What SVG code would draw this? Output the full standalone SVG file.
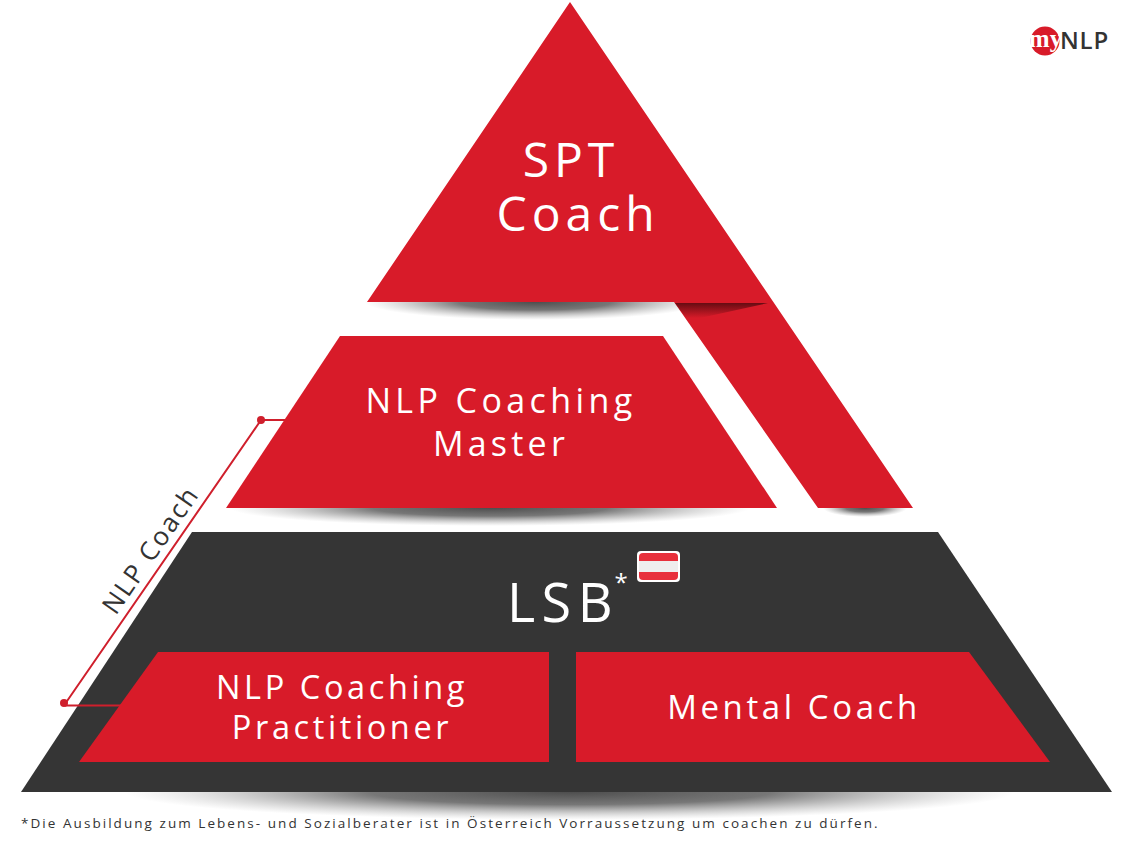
<svg xmlns="http://www.w3.org/2000/svg" width="1133" height="850" viewBox="0 0 1133 850">
<style>
.lbl{font-family:"Open Sans","Noto Sans",sans-serif;fill:#fff;text-anchor:middle}
.red{fill:#d81b29}
.conn{stroke:#cf1f2c;stroke-width:2;fill:none}
.dot{fill:#cf1f2c}
</style>
<defs>
<radialGradient id="sh">
<stop offset="0" stop-color="#444" stop-opacity=".95"/>
<stop offset=".45" stop-color="#555" stop-opacity=".8"/>
<stop offset=".75" stop-color="#777" stop-opacity=".35"/>
<stop offset="1" stop-color="#999" stop-opacity="0"/>
</radialGradient>
<linearGradient id="fold" x1="0" y1="0" x2="0" y2="1">
<stop offset="0" stop-color="#5a0a10" stop-opacity=".9"/>
<stop offset="1" stop-color="#5a0a10" stop-opacity="0"/>
</linearGradient>
<clipPath id="c1"><rect x="340" y="302" width="340" height="30"/></clipPath>
<clipPath id="c2"><rect x="200" y="508" width="590" height="24"/></clipPath>
<clipPath id="c3"><rect x="800" y="508" width="130" height="14"/></clipPath>
<clipPath id="c4"><rect x="60" y="792" width="1030" height="30"/></clipPath>
</defs>
<rect width="1133" height="850" fill="#fff"/>
<g id="shadows">
<g clip-path="url(#c1)"><ellipse fill="url(#sh)" cx="535" cy="302" rx="170" ry="18"/></g>
<g clip-path="url(#c2)"><ellipse fill="url(#sh)" cx="490" cy="508" rx="260" ry="18"/></g>
<g clip-path="url(#c3)"><ellipse fill="url(#sh)" cx="865" cy="508" rx="42" ry="9"/></g>
<g clip-path="url(#c4)"><ellipse fill="url(#sh)" cx="570" cy="792" rx="445" ry="28"/></g>
</g>
<g id="node-spt">
<polygon class="red" points="570,2 913,508 818,508 674,302 367,302"/>
<polygon fill="url(#fold)" points="675,303 768,303 700,318 686,318"/>
<text class="lbl" font-size="48" letter-spacing="5" x="571" y="177">SPT</text>
<text class="lbl" font-size="48" letter-spacing="5" x="578" y="231">Coach</text>
</g>
<g id="node-master">
<polygon class="red" points="340,336 663,336 777,508 226,508"/>
<text class="lbl" font-size="34" letter-spacing="4.4" x="501" y="413">NLP Coaching</text>
<text class="lbl" font-size="34" letter-spacing="4.2" x="501" y="456">Master</text>
</g>
<g id="node-lsb">
<polygon points="192,532 938,532 1112,792 21,792" fill="#353535"/>
<text class="lbl" font-size="54" letter-spacing="6.500" x="563" y="622">LSB</text>
<text class="lbl" font-size="24" x="621" y="591">*</text>
<g id="flag">
<rect x="637" y="551" width="43" height="31" rx="4" fill="#fff"/>
<path d="M639 561V557a4 4 0 0 1 4-4H674a4 4 0 0 1 4 4V561Z" fill="#e8303c"/>
<rect x="639" y="561" width="39" height="11" fill="#efeeee"/>
<path d="M639 572V576a4 4 0 0 0 4 4H674a4 4 0 0 0 4-4V572Z" fill="#e8303c"/>
</g>
</g>
<g id="connectors">
<polyline class="conn" points="285,420 261,420 65,704"/>
<line class="conn" x1="65" y1="705.500" x2="122" y2="705.500"/>
<circle class="dot" cx="261" cy="420" r="4"/>
<circle class="dot" cx="64" cy="703" r="4"/>
</g>
<g id="node-practitioner">
<polygon class="red" points="158,652 549,652 549,762 79,762"/>
<text class="lbl" font-size="32.500" letter-spacing="3.600" x="342" y="699">NLP Coaching</text>
<text class="lbl" font-size="32.500" letter-spacing="3.600" x="342" y="739">Practitioner</text>
</g>
<g id="node-mental">
<polygon class="red" points="576,652 969,652 1050,762 576,762"/>
<text class="lbl" font-size="33" letter-spacing="3.600" x="794" y="719">Mental Coach</text>
</g>
<text id="side-label" font-family="Open Sans,Noto Sans,sans-serif" font-size="26" letter-spacing="2" fill="#333" text-anchor="middle" transform="translate(158,555) rotate(-55.3)">NLP Coach</text>
<g id="logo">
<circle cx="1045" cy="41" r="14.500" fill="#d81b29"/>
<text x="1045.500" y="47" font-family="Liberation Serif,serif" font-size="25" font-weight="bold" fill="#fff" text-anchor="middle">my</text>
<text x="1060" y="49" font-family="Open Sans,sans-serif" font-size="24" font-weight="600" letter-spacing=".8" fill="#333">NLP</text>
</g>
<text id="footnote" x="21" y="828" font-family="Open Sans,Noto Sans,sans-serif" font-size="13.500" letter-spacing="2.050" fill="#333">*Die Ausbildung zum Lebens- und Sozialberater ist in Österreich Vorraussetzung um coachen zu dürfen.</text>
</svg>
